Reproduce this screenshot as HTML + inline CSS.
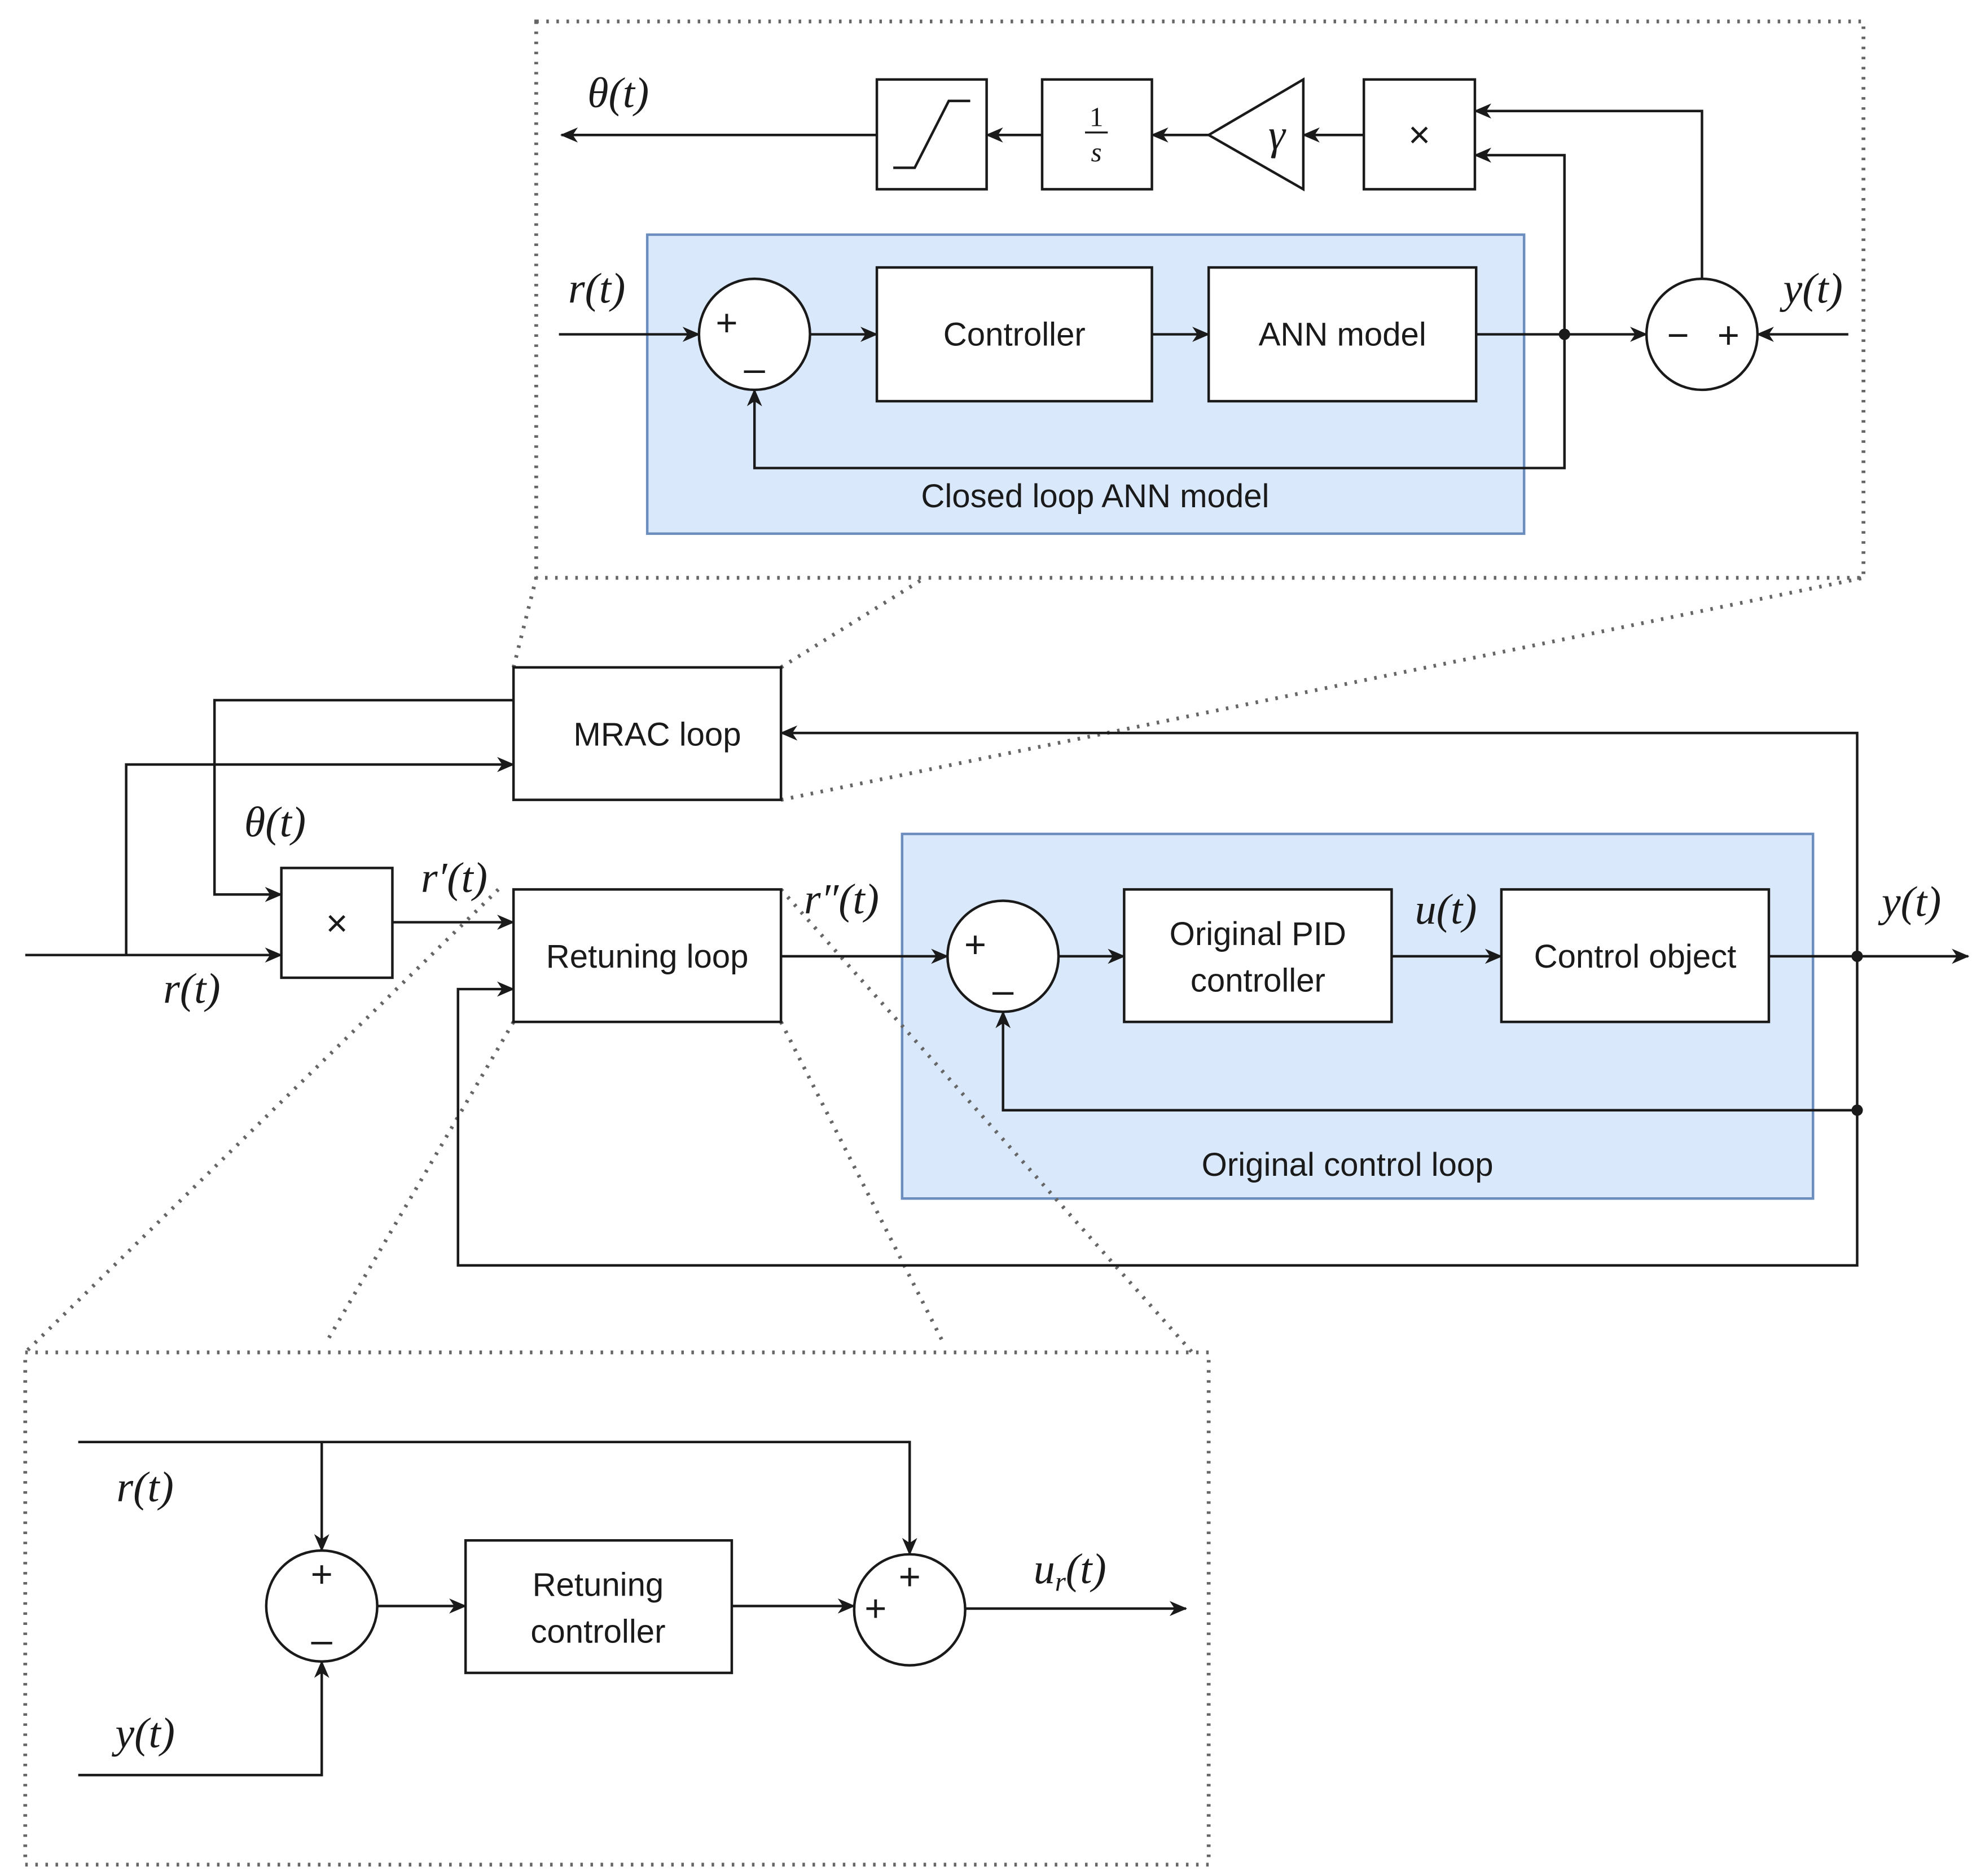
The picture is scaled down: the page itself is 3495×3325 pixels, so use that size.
<!DOCTYPE html>
<html><head><meta charset="utf-8"><style>
html,body{margin:0;padding:0;background:#fff}
svg{display:block}
.t{font-family:"Liberation Sans",sans-serif;font-size:26px;fill:#1a1a1a;text-anchor:middle}
.m{font-family:"Liberation Serif",serif;font-style:italic;font-size:34px;fill:#1a1a1a;text-anchor:middle}
.p{font-family:"Liberation Sans",sans-serif;font-size:30px;fill:#1a1a1a;text-anchor:middle}
</style></head><body>
<svg width="3495" height="3325" viewBox="0 0 1563 1487" xmlns="http://www.w3.org/2000/svg">
<defs><marker id="a" markerWidth="14" markerHeight="12" refX="13" refY="6" orient="auto" markerUnits="userSpaceOnUse"><path d="M0,0 L14,6 L0,12 L4,6 z" fill="#1a1a1a"/></marker></defs>
<rect x="513" y="186" width="695" height="237" fill="#dae8fc" stroke="#6c8ebf" stroke-width="2"/>
<rect x="715" y="661" width="722" height="289" fill="#dae8fc" stroke="#6c8ebf" stroke-width="2"/>
<g fill="none" stroke="#666" stroke-width="3" stroke-dasharray="2,6">
<rect x="425" y="17" width="1052" height="441"/>
<rect x="20" y="1072" width="938" height="406"/>
<line x1="407" y1="529" x2="425" y2="458"/>
<line x1="619" y1="529" x2="733" y2="458"/>
<line x1="619" y1="634" x2="1477" y2="458"/>
<line x1="395" y1="705" x2="20" y2="1072"/>
<line x1="407" y1="810" x2="258" y2="1065"/>
<line x1="619" y1="810" x2="748" y2="1065"/>
<line x1="619" y1="705" x2="945" y2="1072"/>
</g>
<g fill="#fff" stroke="#1a1a1a" stroke-width="2">
<rect x="695" y="63" width="87" height="87"/>
<rect x="826" y="63" width="87" height="87"/>
<polygon points="958,107 1033,63 1033,150"/>
<rect x="1081" y="63" width="88" height="87"/>
<circle cx="598" cy="265" r="44"/>
<rect x="695" y="212" width="218" height="106"/>
<rect x="958" y="212" width="212" height="106"/>
<circle cx="1349" cy="265" r="44"/>
<rect x="407" y="529" width="212" height="105"/>
<rect x="407" y="705" width="212" height="105"/>
<rect x="223" y="688" width="88" height="87"/>
<circle cx="795" cy="758" r="44"/>
<rect x="891" y="705" width="212" height="105"/>
<rect x="1190" y="705" width="212" height="105"/>
<circle cx="255" cy="1273" r="44"/>
<rect x="369" y="1221" width="211" height="105"/>
<circle cx="721" cy="1276" r="44"/>
</g>
<path d="M708,133 L725,133 L752,80 L769,80" fill="none" stroke="#1a1a1a" stroke-width="2"/>
<g fill="none" stroke="#1a1a1a" stroke-width="2" marker-end="url(#a)">
<line x1="695" y1="107" x2="445" y2="107"/>
<line x1="826" y1="107" x2="782" y2="107"/>
<line x1="958" y1="107" x2="913" y2="107"/>
<line x1="1081" y1="107" x2="1033" y2="107"/>
<polyline points="1349,221 1349,88 1169,88"/>
<polyline points="1240,265 1240,123 1169,123"/>
<line x1="443" y1="265" x2="554" y2="265"/>
<line x1="642" y1="265" x2="695" y2="265"/>
<line x1="913" y1="265" x2="958" y2="265"/>
<line x1="1170" y1="265" x2="1305" y2="265"/>
<polyline points="1240,265 1240,371 598,371 598,309"/>
<line x1="1465" y1="265" x2="1393" y2="265"/>
<line x1="20" y1="757" x2="223" y2="757"/>
<polyline points="100,757 100,606 407,606"/>
<polyline points="407,555 170,555 170,709 223,709"/>
<line x1="311" y1="731" x2="407" y2="731"/>
<line x1="619" y1="758" x2="751" y2="758"/>
<line x1="839" y1="758" x2="891" y2="758"/>
<line x1="1103" y1="758" x2="1190" y2="758"/>
<line x1="1402" y1="758" x2="1560" y2="758"/>
<polyline points="1472,880 795,880 795,802"/>
<polyline points="1472,758 1472,1003 363,1003 363,784 407,784"/>
<polyline points="1472,758 1472,581 619,581"/>
<polyline points="62,1143 721,1143 721,1232"/>
<line x1="255" y1="1143" x2="255" y2="1229"/>
<line x1="299" y1="1273" x2="369" y2="1273"/>
<line x1="580" y1="1273" x2="677" y2="1273"/>
<line x1="765" y1="1275" x2="940" y2="1275"/>
<polyline points="62,1407 255,1407 255,1317"/>
</g>
<g fill="#1a1a1a"><circle cx="1240" cy="265" r="4.5"/><circle cx="1472" cy="758" r="4.5"/><circle cx="1472" cy="880" r="4.5"/></g>
<text class="t" x="804" y="274">Controller</text>
<text class="t" x="1064" y="274">ANN model</text>
<text class="t" x="868" y="402">Closed loop ANN model</text>
<text class="t" x="521" y="591">MRAC loop</text>
<text class="t" x="513" y="767">Retuning loop</text>
<text class="t" x="997" y="749">Original PID</text>
<text class="t" x="997" y="786">controller</text>
<text class="t" x="1296" y="767">Control object</text>
<text class="t" x="1068" y="932">Original control loop</text>
<text class="t" x="474" y="1265">Retuning</text>
<text class="t" x="474" y="1302">controller</text>
<text class="p" x="1125" y="117">×</text>
<text class="p" x="267" y="742">×</text>
<text class="m" x="1012" y="118">γ</text>
<text class="t" x="869" y="100" style="font-family:'Liberation Serif',serif;font-size:22px">1</text>
<line x1="860" y1="105" x2="878" y2="105" stroke="#1a1a1a" stroke-width="1.5"/>
<text class="t" x="869" y="128" style="font-family:'Liberation Serif',serif;font-style:italic;font-size:22px">s</text>
<text class="p" x="576" y="266">+</text><text class="p" x="598" y="302">–</text>
<text class="p" x="1330" y="276">−</text><text class="p" x="1370" y="276">+</text>
<text class="p" x="773" y="759">+</text><text class="p" x="795" y="795">–</text>
<text class="p" x="255" y="1258">+</text><text class="p" x="255" y="1310">–</text>
<text class="p" x="721" y="1260">+</text><text class="p" x="694" y="1285">+</text>
<text class="m" x="490" y="85">θ(t)</text>
<text class="m" x="473" y="240">r(t)</text>
<text class="m" x="1437" y="240">y(t)</text>
<text class="m" x="218" y="663">θ(t)</text>
<text class="m" x="360" y="707">r′(t)</text>
<text class="m" x="152" y="795">r(t)</text>
<text class="m" x="667" y="724">r″(t)</text>
<text class="m" x="1146" y="732">u(t)</text>
<text class="m" x="1515" y="726">y(t)</text>
<text class="m" x="115" y="1190">r(t)</text>
<text class="m" x="115" y="1385">y(t)</text>
<text class="m" x="848" y="1255">u<tspan font-size="22" dy="6">r</tspan><tspan dy="-6">(t)</tspan></text>
</svg>
</body></html>
